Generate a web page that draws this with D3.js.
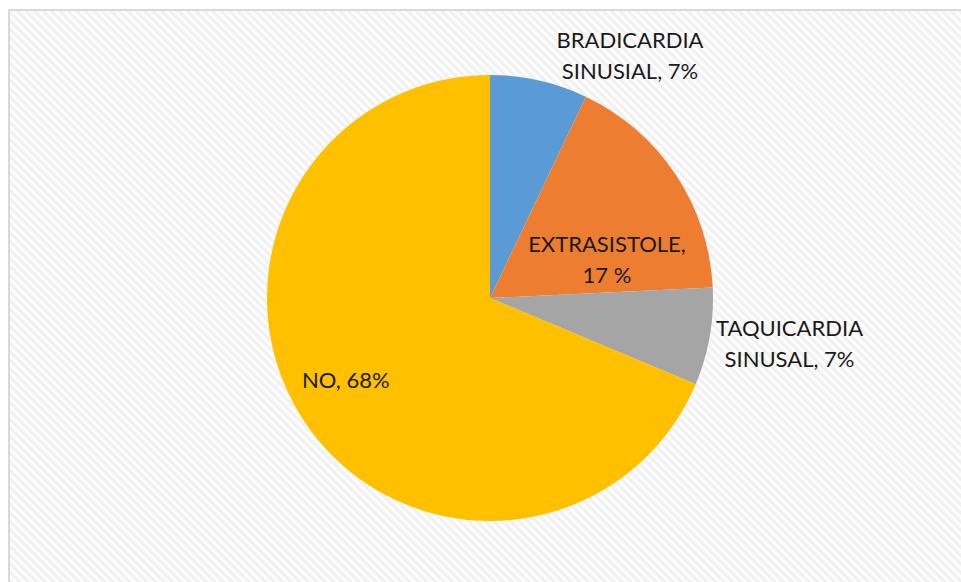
<!DOCTYPE html>
<html>
<head>
<meta charset="utf-8">
<script src="https://cdn.jsdelivr.net/npm/d3@7"></script>
<style>
  html, body { margin: 0; padding: 0; background: #ffffff; }
  svg { display: block; }
</style>
</head>
<body>
<script>
// Arrhythmia findings, share of patients (%)
const categories = ["BRADICARDIA SINUSIAL", "EXTRASISTOLE", "TAQUICARDIA SINUSAL", "NO"];
const values = [7, 17, 7, 68];
const colors = ["#5b9bd5", "#ed7d31", "#a5a5a5", "#ffc000"];
const labelLines = [
  ["BRADICARDIA", "SINUSIAL, 7%"],
  ["EXTRASISTOLE,", "17 %"],
  ["TAQUICARDIA", "SINUSAL, 7%"],
  ["NO, 68%"]
];

const W = 961, H = 582;
const cx = 490, cy = 298, R = 223;

// label anchor: radius from centre and angle (degrees clockwise from top)
const labelPlace = [
  { r: 280, a: 30.0 },
  { r: 123, a: 72.0 },
  { r: 303, a: 98.7 },
  { r: 166, a: 240.3 }
];

const svg = d3.select("body").append("svg")
  .attr("width", W).attr("height", H);

const defs = svg.append("defs");
const pat = defs.append("pattern")
  .attr("id", "stripes")
  .attr("patternUnits", "userSpaceOnUse")
  .attr("width", 6).attr("height", 6)
  .attr("patternTransform", "rotate(45)");
pat.append("rect").attr("width", 6).attr("height", 6).attr("fill", "#fdfdfd");
pat.append("rect").attr("width", 6).attr("height", 3).attr("fill", "#f1f1f1");

// chart area with striped fill and light frame
svg.append("rect")
  .attr("x", 9).attr("y", 10)
  .attr("width", W + 10).attr("height", H + 10)
  .attr("fill", "url(#stripes)")
  .attr("stroke", "#d9d9d9")
  .attr("stroke-width", 2);

const data = categories.map((c, i) => ({ name: c, value: values[i], color: colors[i], lines: labelLines[i], place: labelPlace[i] }));

const pie = d3.pie().value(d => d.value).sort(null);
const arc = d3.arc().innerRadius(0).outerRadius(R);

const g = svg.append("g").attr("transform", `translate(${cx},${cy})`);

g.selectAll("path.slice")
  .data(pie(data))
  .join("path")
  .attr("class", "slice")
  .attr("d", arc)
  .attr("fill", d => d.data.color);

const fontSize = 22;
const lineH = 31;
const labels = g.selectAll("text.lbl")
  .data(pie(data))
  .join("text")
  .attr("class", "lbl")
  .attr("text-anchor", "middle")
  .attr("font-family", "Lato, 'Open Sans', sans-serif")
  .attr("font-size", fontSize)
  .attr("fill", "#1a1a1a")
  .attr("transform", d => {
    const a = d.data.place.a * Math.PI / 180;
    const x = d.data.place.r * Math.sin(a);
    const y = -d.data.place.r * Math.cos(a);
    return `translate(${x},${y})`;
  });

labels.each(function(d) {
  const n = d.data.lines.length;
  d3.select(this).selectAll("tspan")
    .data(d.data.lines)
    .join("tspan")
    .attr("x", 0)
    .attr("y", (t, i) => (i - (n - 1) / 2) * lineH)
    .attr("dy", "0.35em")
    .text(t => t);
});
</script>
</body>
</html>
